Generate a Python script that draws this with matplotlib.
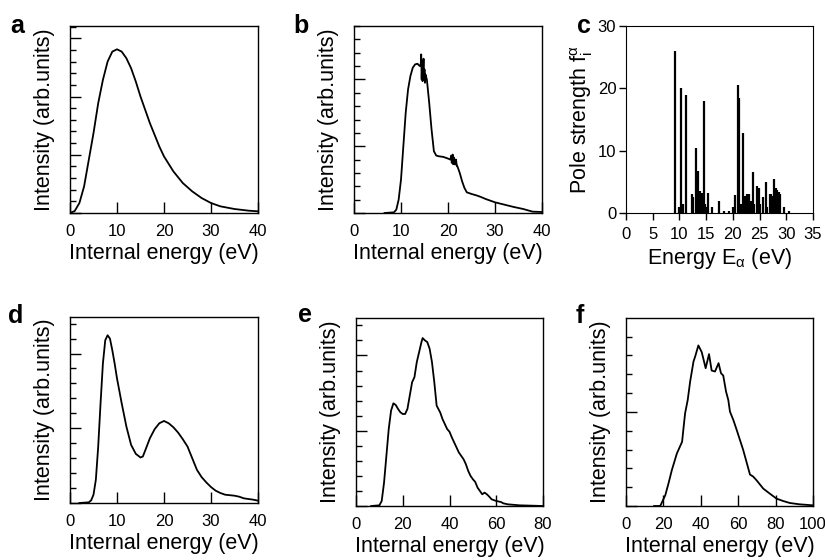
import matplotlib
matplotlib.use("Agg")
import matplotlib.pyplot as plt
from matplotlib.ticker import MultipleLocator, NullFormatter
import numpy as np

plt.rcParams['font.family'] = ['Liberation Sans', 'DejaVu Sans']
plt.rcParams['mathtext.fontset'] = 'custom'
plt.rcParams['mathtext.rm'] = 'Liberation Sans'
plt.rcParams['mathtext.it'] = 'Liberation Sans'

# ---- panel a ----
a_x = [0, 1, 2, 3, 4, 5, 6, 7, 8, 9, 10, 11, 12, 13, 14, 15, 16, 17, 18, 19, 20,
       22, 24, 26, 28, 30, 32, 35, 38, 40]
a_y = [0, 6, 30, 80, 160, 240, 330, 400, 455, 485, 492, 485, 465, 435, 395, 350,
       310, 270, 235, 200, 170, 125, 90, 65, 45, 30, 20, 12, 7, 5]

# ---- panel b ----
b_x = [6.5, 8.5, 9, 9.5, 10, 10.5, 11, 11.5, 12, 12.5, 13, 13.5, 14, 14.2, 14.3, 14.4,
       14.5, 14.6, 14.7, 14.8, 14.9, 15.0, 15.1, 15.2, 15.5, 16, 16.5, 17, 17.5, 18,
       19, 20, 20.5, 20.7, 20.8, 21.0, 21.1, 21.3, 21.5, 21.7, 21.9, 22, 22.5, 23,
       23.5, 24, 25, 26, 27, 28, 29, 30, 32, 34, 36, 37, 38, 40]
b_y = [0, 2, 10, 40, 100, 200, 300, 370, 410, 435, 445, 447, 440, 445, 475, 400,
       455, 395, 430, 462, 405, 430, 390, 415, 400, 330, 250, 185, 172, 170,
       168, 163, 160, 172, 150, 175, 146, 166, 145, 160, 140, 140, 120, 95,
       75, 62, 57, 53, 48, 42, 37, 32, 25, 18, 12, 8, 4, 3]

# ---- panel c (stick spectrum) ----
c_E = [9.11, 9.92, 10.23, 10.6, 11.17, 12.29, 12.6, 13.04, 13.41, 13.7, 13.91, 14.22,
       14.54, 14.79, 14.97, 15.29, 16.16, 17.4, 18.28, 19.28, 20.09, 20.4, 20.9, 21.15,
       21.5, 21.96, 22.2, 22.58, 22.83, 22.96, 23.4, 23.71, 24.0, 24.58, 24.89, 25.1,
       25.7, 26.14, 26.4, 26.9, 27.1, 27.3, 27.64, 28.07, 28.32, 28.64, 28.9, 29.5, 30.5]
c_f = [26.0, 1.0, 20.0, 1.4, 19.0, 3.0, 2.5, 10.5, 6.8, 1.5, 3.5, 3.2,
       18.0, 1.5, 1.0, 3.2, 0.9, 2.0, 0.4, 0.4, 1.0, 2.9, 20.5, 18.4,
       1.5, 12.9, 2.7, 3.0, 3.0, 3.1, 2.0, 6.5, 1.5, 4.3, 4.0, 1.5,
       2.5, 4.9, 1.0, 3.0, 3.0, 2.7, 5.4, 4.0, 3.7, 3.3, 3.0, 1.0, 0.3]

# ---- panel d ----
d_x = [2, 4, 4.5, 5, 5.5, 6, 6.5, 7, 7.5, 8, 8.5, 9, 9.5, 10, 11, 12, 13, 14, 15, 15.5,
       16, 17, 18, 19, 20, 21, 22, 23, 24, 25, 26, 27, 28, 29, 30, 31, 32, 33, 35, 36,
       37, 38, 39, 40]
d_y = [0, 2, 8, 25, 70, 170, 300, 420, 490, 505, 495, 460, 420, 375, 300, 230, 175,
       148, 137, 140, 158, 195, 222, 240, 247, 240, 228, 212, 192, 170, 135, 100, 78,
       62, 48, 37, 30, 25, 22, 19, 14, 12, 10, 7]

# ---- panel e ----
e_x = [6.5, 10, 11, 12, 13, 14, 15, 16, 17, 18, 19, 20, 21, 22, 23, 24, 25, 26, 27, 28,
       28.5, 29.5, 30.5, 31.5, 32.5, 33.5, 34.5, 36, 37, 38, 39, 40, 41, 42, 43, 44, 45,
       46, 47, 48, 49, 50, 51, 52, 53, 54, 55, 56, 57, 58, 60, 62, 63, 65, 70, 75, 80]
e_y = [0, 2, 15, 70, 150, 230, 285, 307, 302, 290, 280, 275, 275, 290, 330, 370, 385,
       430, 460, 490, 502, 495, 490, 470, 430, 370, 300, 280, 260, 245, 230, 222, 205,
       190, 175, 160, 150, 140, 125, 105, 90, 80, 72, 55, 45, 35, 40, 35, 28, 20, 15,
       12, 8, 5, 2, 1, 0]

# ---- panel f ----
f_x = [15, 18.3, 21, 22.7, 24.5, 27.2, 30, 30.7, 31.6, 33, 34.3, 36.1, 37, 38.7, 40.5,
       42.6, 44.4, 45.8, 47.6, 49.5, 50.8, 52, 53.5, 54.7, 55.6, 57.4, 59.1, 62.7, 66.3,
       68, 69.8, 73.4, 76.9, 80.5, 84, 87.6, 92.9, 100]
f_y = [0, 0, 32, 67, 107, 157, 192, 230, 277, 317, 372, 432, 447, 480, 460,
       412, 454, 405, 402, 427, 397, 390, 342, 317, 282, 257, 229, 167, 94,
       88, 77, 52, 37, 22, 15, 9, 5, 2]

XLABEL = 'Internal energy (eV)'
YLABEL = 'Intensity (arb.units)'

W, H = 825, 560
fig = plt.figure(figsize=(W / 100, H / 100), dpi=100)


def add_axes(left, top, right, bottom):
    return fig.add_axes([left / W, 1 - bottom / H, (right - left) / W, (bottom - top) / H])


LW = 1.3
LABEL_FS = 15.5
TICK_FS = 12


def style_intensity(ax, xmax, xstep, ytop, ymaj, ymin):
    ax.set_xlim(0, xmax)
    ax.set_ylim(0, ytop)
    ax.xaxis.set_major_locator(MultipleLocator(xstep))
    ax.yaxis.set_major_locator(MultipleLocator(ymaj))
    ax.yaxis.set_minor_locator(MultipleLocator(ymin))
    ax.yaxis.set_major_formatter(NullFormatter())
    ax.tick_params(axis='x', direction='in', length=8, width=1, labelsize=TICK_FS, pad=8,
                   bottom=True, top=False)
    ax.tick_params(axis='y', which='major', direction='in', length=8, width=1,
                   left=True, right=False)
    ax.tick_params(axis='y', which='minor', direction='in', length=4.5, width=1,
                   left=True, right=False)
    ax.tick_params(axis='x', which='minor', bottom=False, top=False)
    ax.set_xlabel(XLABEL, fontsize=LABEL_FS, labelpad=3)
    ax.set_ylabel(YLABEL, fontsize=LABEL_FS, labelpad=7)
    for s in ax.spines.values():
        s.set_linewidth(1)


# a
ax = add_axes(70, 26, 258, 213)
ax.plot(a_x, a_y, color='black', lw=LW)
style_intensity(ax, 40, 10, 562, 175, 35)

# b
ax = add_axes(354, 26, 542, 213)
ax.plot(b_x, b_y, color='black', lw=LW)
style_intensity(ax, 40, 10, 560, 200, 40)

# c
ax = add_axes(626, 26, 813, 213)
ax.vlines(c_E, 0, c_f, color='black', lw=1.6)
ax.set_xlim(0, 35)
ax.set_ylim(0, 30)
ax.xaxis.set_major_locator(MultipleLocator(5))
ax.yaxis.set_major_locator(MultipleLocator(10))
ax.tick_params(direction='out', length=5, width=1, labelsize=TICK_FS, pad=2)
ax.tick_params(axis='x', pad=5)
ax.set_xlabel('Energy E$_\\alpha$ (eV)', fontsize=LABEL_FS, labelpad=3)
ax.set_ylabel('Pole strength f$_\\mathregular{i}^{\\alpha}$', fontsize=LABEL_FS, labelpad=2)

# d
ax = add_axes(70, 317, 258, 503)
ax.plot(d_x, d_y, color='black', lw=LW)
style_intensity(ax, 40, 10, 560, 225, 45)

# e
ax = add_axes(356, 318, 543, 506)
ax.plot(e_x, e_y, color='black', lw=LW)
style_intensity(ax, 80, 20, 562, 225, 45)

# f
ax = add_axes(626, 318, 813, 506)
ax.plot(f_x, f_y, color='black', lw=LW)
style_intensity(ax, 100, 20, 562, 281.25, 56.25)

# panel letters
for lab, px, py in [('a', 10, 33), ('b', 293, 33), ('c', 577, 33),
                    ('d', 8, 323), ('e', 298, 322), ('f', 576, 323)]:
    fig.text(px / W, 1 - py / H, lab, fontsize=18, fontweight='bold',
             ha='left', va='baseline')

fig.savefig('out.png', dpi=100)
